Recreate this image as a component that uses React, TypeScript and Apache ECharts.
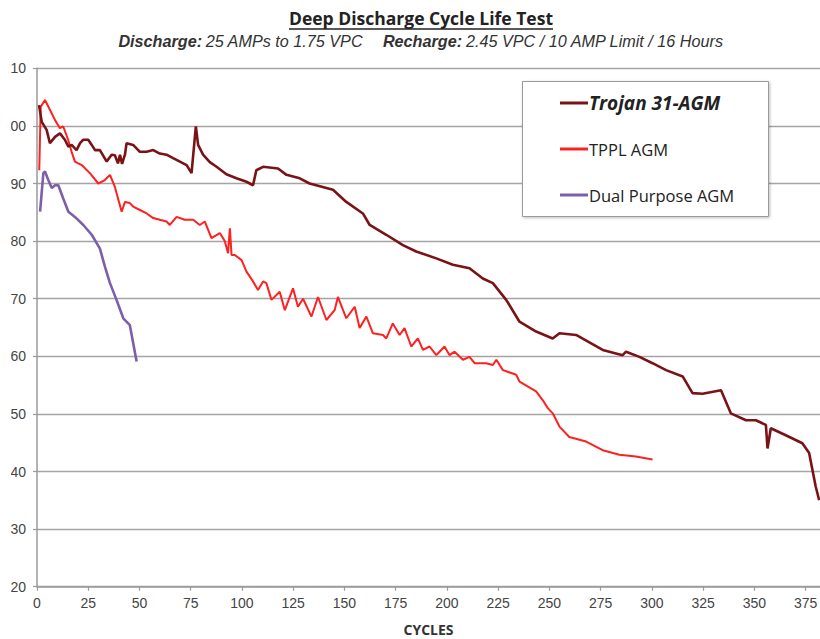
import React, { useEffect, useRef } from "react";
import * as echarts from "echarts";

// ---- data (cycle, capacity %) ----
const trojan: [number, number][] = [
  [1, 103.6], [2.3, 100.7], [4.7, 99.3], [6.3, 97], [8.8, 98.1], [11.2, 98.7], [13.6, 97.6],
  [15.3, 96.4], [16.9, 96.7], [19.3, 95.8], [21, 97], [22.6, 97.6], [25, 97.6], [26.7, 96.7],
  [28.3, 95.8], [30.7, 95.8], [34, 93.8], [36.4, 95], [38, 94.9], [39.5, 93.5], [40.5, 95],
  [41.5, 93.4], [42.9, 95], [43.7, 97], [46.9, 96.7], [50.2, 95.5], [53.5, 95.5], [56.7, 95.8],
  [59.9, 95.2], [63.2, 95], [66.4, 94.4], [69.7, 93.8], [73, 93.2], [75.4, 91.8], [77.5, 99.9],
  [78.6, 96.7], [81, 95], [84.3, 93.7], [87.6, 92.9], [92.4, 91.6], [97.3, 90.9], [102.2, 90.3],
  [105.4, 89.7], [107, 92.3], [110.3, 92.9], [117.6, 92.6], [121.7, 91.5], [128.2, 90.9],
  [133, 90], [144.4, 88.9], [150.9, 86.8], [159, 84.8], [162.3, 82.8], [170.4, 81.1],
  [178.5, 79.3], [185, 78.2], [194.8, 77], [202.9, 75.9], [211, 75.3], [217.5, 73.5],
  [222.4, 72.7], [228.9, 69.8], [235.4, 66], [243.5, 64.3], [251.6, 63.1], [254.9, 64],
  [263, 63.7], [276, 61.1], [285.7, 60.2], [287.4, 60.8], [293.9, 59.9], [300.3, 58.8],
  [306.9, 57.6], [315, 56.5], [319.8, 53.6], [324.7, 53.5], [333.7, 54.1], [338.5, 50.1],
  [345.9, 48.9], [350.7, 48.9], [355.6, 48.1], [356.4, 44], [358, 47.5], [365.3, 46.3],
  [373.4, 44.9], [376.7, 43.2], [379.9, 37.4], [381.6, 35],
];

const tppl: [number, number][] = [
  [1.1, 92.3], [1.8, 103.3], [3.9, 104.5], [6.3, 102.8], [8.8, 101], [11.2, 99.6], [12.8, 99.9],
  [15.2, 97.6], [16.9, 95.5], [18.5, 93.8], [21.8, 93.2], [25.8, 91.8], [29.9, 90], [33.1, 90.6],
  [35.6, 91.5], [38, 89.4], [41.3, 85.1], [42.9, 86.8], [45.3, 86.6], [46.9, 86], [50.2, 85.4],
  [53.5, 84.8], [56.7, 84], [59.9, 83.7], [63.2, 83.4], [64.8, 82.8], [68.1, 84.2], [72.1, 83.7],
  [76.2, 83.7], [79.4, 82.8], [81.9, 83.4], [85.1, 80.5], [89.2, 81.4], [91.6, 80], [93.2, 77.9],
  [94.1, 82.2], [94.9, 77.6], [96.5, 77.6], [99.8, 76.7], [102.2, 74.7], [105.4, 73],
  [107.8, 71.5], [110.3, 73], [111.9, 72.7], [114.4, 69.8], [118.4, 71.2], [120.9, 68],
  [124.9, 71.8], [127.3, 68.6], [129.8, 70], [133.9, 66.9], [137.1, 70.3], [141.2, 66.3],
  [145.2, 68], [146.8, 70.3], [150.9, 66.6], [155, 68.6], [157.4, 64.9], [160.7, 66.9],
  [163.9, 64], [168.8, 63.7], [170.4, 63.1], [173.6, 65.7], [176.9, 63.7], [179.3, 64.9],
  [182.6, 61.7], [185.8, 63.1], [188.3, 61.1], [191.5, 61.7], [194.8, 60.2], [196.4, 60.8],
  [198.8, 61.7], [201.3, 60.2], [203.7, 60.8], [207.8, 59.4], [211, 59.9], [213.5, 58.8],
  [219.2, 58.8], [222.4, 58.5], [224.1, 59.4], [227.3, 57.6], [233.8, 56.8], [235.4, 55.6],
  [243.5, 53.9], [246.7, 52.4], [249.2, 51], [251.6, 50.1], [254.9, 47.8], [259.7, 46],
  [267.9, 45.2], [276, 43.7], [284.1, 42.9], [292.2, 42.6], [300.3, 42.1],
];

const dualPurpose: [number, number][] = [
  [1.5, 85.1], [3.1, 91.8], [3.9, 92.1], [5.5, 90.6], [7.2, 89.2], [8.8, 89.7], [10.4, 89.7],
  [12.8, 87.4], [15.3, 85.1], [18.5, 84.2], [22.6, 82.8], [26.7, 81.1], [30.7, 78.7],
  [33.1, 75.6], [35.6, 72.7], [38.8, 69.8], [42.1, 66.6], [45.3, 65.4], [48.6, 59.1],
];

const seriesNames = ["Trojan 31-AGM", "TPPL AGM", "Dual Purpose AGM"];
const titleText = "Deep Discharge Cycle Life Test";
const xName = "CYCLES";

const TITLE_FONT = "700 17.5px 'Open Sans'";

export default function App() {
  const ref = useRef<HTMLDivElement>(null);

  useEffect(() => {
    if (!ref.current) return;
    const chart = echarts.init(ref.current, undefined, { renderer: "svg" });

    const ctx = document.createElement("canvas").getContext("2d")!;
    ctx.font = TITLE_FONT;
    const titleW = ctx.measureText(titleText).width;
    const cx = 410;

    chart.setOption({
      animation: false,
      backgroundColor: "#ffffff",
      grid: {
        left: 26,
        right: 0,
        top: 68.3,
        bottom: 52.3,
        containLabel: false,
        outerBoundsMode: "none",
      },
      xAxis: {
        type: "value",
        min: 0,
        max: 382,
        interval: 25,
        name: xName,
        nameLocation: "middle",
        nameGap: 36,
        nameTextStyle: {
          fontFamily: "'Open Sans'",
          fontWeight: 700,
          fontSize: 14,
          lineHeight: 14,
          color: "#333",
        },
        axisLine: { lineStyle: { color: "#9a9a9a", width: 1.5 } },
        axisTick: { show: true, length: 4, lineStyle: { color: "#9a9a9a", width: 1.2 } },
        axisLabel: {
          margin: 9,
          fontSize: 14,
          color: "#444",
          fontFamily: "'Liberation Sans', Arial, sans-serif",
          showMaxLabel: false,
        },
        splitLine: { show: false },
      },
      yAxis: {
        type: "value",
        min: 20,
        max: 110,
        interval: 10,
        axisLine: { show: true, lineStyle: { color: "#9a9a9a", width: 1.5 } },
        axisTick: { show: true, length: 4, lineStyle: { color: "#9a9a9a", width: 1.2 } },
        axisLabel: {
          margin: 11,
          fontSize: 14,
          color: "#444",
          fontFamily: "'Liberation Sans', Arial, sans-serif",
        },
        splitLine: { show: true, lineStyle: { color: "#a4a4a4", width: 1.3 } },
      },
      legend: {
        orient: "vertical",
        left: 549,
        top: 93,
        padding: 0,
        itemGap: 26,
        itemWidth: 28,
        itemHeight: 3,
        icon: "rect",
        z: 20,
        textStyle: { fontFamily: "'Open Sans'", color: "#222", fontSize: 16.5, lineHeight: 20, padding: [0, 0, 0, -4] },
        data: [
          { name: seriesNames[0], textStyle: { fontSize: 19, fontWeight: 700, fontStyle: "italic", lineHeight: 20 } },
          { name: seriesNames[1] },
          { name: seriesNames[2] },
        ],
      },
      graphic: [
        {
          type: "rect",
          z: 10,
          shape: { x: 511.5, y: 81.5, width: 246, height: 135 },
          style: {
            fill: "#ffffff",
            stroke: "#9a9a9a",
            lineWidth: 1,
            shadowBlur: 3,
            shadowColor: "rgba(0,0,0,0.25)",
            shadowOffsetX: 1,
            shadowOffsetY: 1,
          },
        },
        {
          type: "text",
          z: 10,
          x: cx,
          y: 18,
          style: {
            text: titleText,
            font: TITLE_FONT,
            fill: "#222",
            align: "center",
            verticalAlign: "middle",
          },
        },
        {
          type: "line",
          z: 10,
          shape: { x1: cx - titleW / 2, y1: 29, x2: cx + titleW / 2, y2: 29 },
          style: { stroke: "#222", lineWidth: 1.3 },
        },
        {
          type: "text",
          z: 10,
          x: cx,
          y: 41,
          style: {
            text:
              "{b|Discharge:} {n|25 AMPs to 1.75 VPC}      {b|Recharge:} {n|2.45 VPC / 10 AMP Limit / 16 Hours}",
            align: "center",
            verticalAlign: "middle",
            rich: {
              b: {
                fontFamily: "'Liberation Sans', Arial, sans-serif",
                fontSize: 16.2,
                fontWeight: 700,
                fontStyle: "italic",
                fill: "#333",
              },
              n: {
                fontFamily: "'Liberation Sans', Arial, sans-serif",
                fontSize: 16.2,
                fontStyle: "italic",
                fill: "#333",
              },
            },
          },
        },
      ],
      series: [
        {
          name: seriesNames[0],
          type: "line",
          data: trojan,
          symbol: "none",
          color: "#7a1316",
          lineStyle: { width: 2.6, color: "#7a1316" },
          z: 3,
        },
        {
          name: seriesNames[1],
          type: "line",
          data: tppl,
          symbol: "none",
          color: "#ff2020",
          lineStyle: { width: 2, color: "#ff2020" },
          z: 2,
        },
        {
          name: seriesNames[2],
          type: "line",
          data: dualPurpose,
          symbol: "none",
          color: "#7d5fa9",
          lineStyle: { width: 2.6, color: "#7d5fa9" },
          z: 2,
        },
      ],
    });

    return () => chart.dispose();
  }, []);

  return (
    <div
      ref={ref}
      style={{ position: "absolute", left: 11, top: 0, width: 809, height: 639, overflow: "hidden" }}
    />
  );
}
